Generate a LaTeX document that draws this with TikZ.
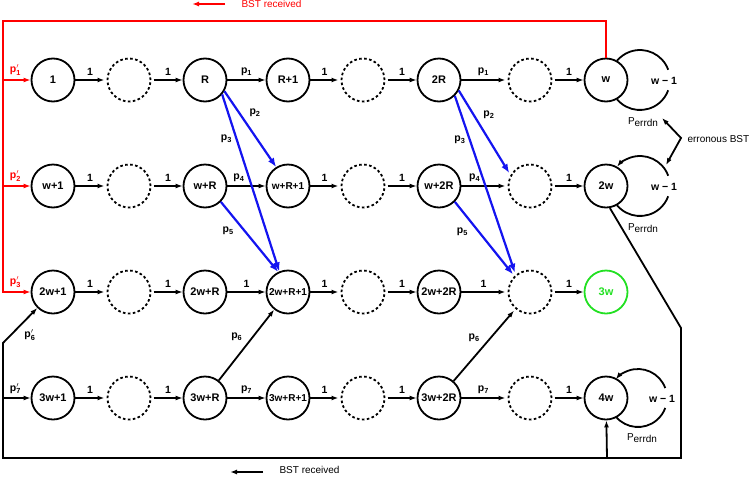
\documentclass[tikz,border=0pt]{standalone}
\usepackage{fontspec}
\setmainfont{Liberation Sans}
\setsansfont{Liberation Sans}
\usetikzlibrary{arrows.meta}
\definecolor{bstred}{HTML}{FF0000}
\definecolor{jumpblue}{HTML}{1414F0}
\definecolor{donegreen}{HTML}{22E022}
\newcommand{\pl}[1]{p\textsubscript{#1}}
\newcommand{\plp}[1]{$\mathbf{p}'_{\mathbf{#1}}$}
\newcommand{\perr}{P\raisebox{-1.5pt}{errdn}}

\begin{document}
\begin{tikzpicture}[x=1pt,y=1pt,
    every node/.style={font=\fontsize{10.5}{12}\selectfont\bfseries},
    st/.style={circle,draw,line width=1.8pt,minimum size=43pt,inner sep=0pt,
               font=\fontsize{11}{12}\selectfont\bfseries},
    long/.style={font=\fontsize{10}{12}\selectfont\bfseries},
    hole/.style={st,dash pattern=on 2.6pt off 2.4pt,outer sep=3pt},
    done/.style={st,draw=donegreen,text=donegreen},
    plain/.style={font=\fontsize{10}{12}\selectfont},
    arr/.style={-{Latex[length=7pt,width=5pt]},line width=1.8pt},
    jump/.style={-{Latex[length=9pt,width=7pt]},line width=2.2pt,draw=jumpblue},
    bst/.style={-{Latex[length=7pt,width=5pt]},line width=2.2pt,draw=bstred}
]
\useasboundingbox (0,0) rectangle (752,-477);

% row 1
\node[st]   (a1) at (53,-80)  {1};
\node[hole] (a2) at (129,-80) {};
\node[st]   (a3) at (205,-80) {R};
\node[st]   (a4) at (288,-80) {R+1};
\node[hole] (a5) at (363,-80) {};
\node[st]   (a6) at (439,-80) {2R};
\node[hole] (a7) at (530,-80) {};
\node[st]   (a8) at (606,-80) {w};
% row 2
\node[st]   (b1) at (53,-186)  {w+1};
\node[hole] (b2) at (129,-186) {};
\node[st]   (b3) at (205,-186) {w+R};
\node[st,long] (b4) at (288,-186) {w+R+1};
\node[hole] (b5) at (363,-186) {};
\node[st]   (b6) at (439,-186) {w+2R};
\node[hole] (b7) at (530,-186) {};
\node[st]   (b8) at (606,-186) {2w};
% row 3
\node[st]   (c1) at (53,-292)  {2w+1};
\node[hole] (c2) at (129,-292) {};
\node[st]   (c3) at (205,-292) {2w+R};
\node[st,long] (c4) at (288,-292) {2w+R+1};
\node[hole] (c5) at (363,-292) {};
\node[st]   (c6) at (439,-292) {2w+2R};
\node[hole] (c7) at (530,-292) {};
\node[done] (c8) at (606,-292) {3w};
% row 4
\node[st]   (d1) at (53,-398)  {3w+1};
\node[hole] (d2) at (129,-398) {};
\node[st]   (d3) at (205,-398) {3w+R};
\node[st,long] (d4) at (288,-398) {3w+R+1};
\node[hole] (d5) at (363,-398) {};
\node[st]   (d6) at (439,-398) {3w+2R};
\node[hole] (d7) at (530,-398) {};
\node[st]   (d8) at (606,-398) {4w};

% straight moves
\draw[arr] (a1) -- node[above]{1} (a2);
\draw[arr] (a2) -- node[above]{1} (a3);
\draw[arr] (a3) -- node[above]{\pl1} (a4);
\draw[arr] (a4) -- node[above]{1} (a5);
\draw[arr] (a5) -- node[above]{1} (a6);
\draw[arr] (a6) -- node[above]{\pl1} (a7);
\draw[arr] (a7) -- node[above]{1} (a8);

\draw[arr] (b1) -- node[above]{1} (b2);
\draw[arr] (b2) -- node[above]{1} (b3);
\draw[arr] (b3) -- node[above,pos=.3]{\pl4} (b4);
\draw[arr] (b4) -- node[above]{1} (b5);
\draw[arr] (b5) -- node[above]{1} (b6);
\draw[arr] (b6) -- node[above,pos=.3]{\pl4} (b7);
\draw[arr] (b7) -- node[above]{1} (b8);

\draw[arr] (c1) -- node[above]{1} (c2);
\draw[arr] (c2) -- node[above]{1} (c3);
\draw[arr] (c3) -- node[above]{1} (c4);
\draw[arr] (c4) -- node[above]{1} (c5);
\draw[arr] (c5) -- node[above]{1} (c6);
\draw[arr] (c6) -- node[above]{1} (c7);
\draw[arr] (c7) -- node[above]{1} (c8);

\draw[arr] (d1) -- node[above]{1} (d2);
\draw[arr] (d2) -- node[above]{1} (d3);
\draw[arr] (d3) -- node[above]{\pl7} (d4);
\draw[arr] (d4) -- node[above]{1} (d5);
\draw[arr] (d5) -- node[above]{1} (d6);
\draw[arr] (d6) -- node[above]{\pl7} (d7);
\draw[arr] (d7) -- node[above]{1} (d8);

% jumps
\draw[jump] (a3.-30) -- node[above right,pos=.4]{\pl2} (b4.122);
\draw[jump] (a3.-40) -- node[left,pos=.25]{\pl3} (c4.113);
\draw[jump] (b3.-45) -- node[below left,pos=.3]{\pl5} (c4.116);
\draw[jump] (a6.-28) -- node[above right,pos=.4]{\pl2} (b7.148);
\draw[jump] (a6.-45) -- node[left,pos=.25]{\pl3} (c7.128);
\draw[jump] (b6.-45) -- node[below left,pos=.3]{\pl5} (c7.134);
\draw[arr] (d3) -- node[above left]{\pl6} (c4);
\draw[arr] (d6) -- node[above left]{\pl6} (c7);

% BST feedback
\coordinate (rk) at (3,-21);
\coordinate (r1) at (3,-80);
\coordinate (r2) at (3,-186);
\coordinate (r3) at (3,-292);
\draw[bst] (a8.north) |- (rk) -- (r3) -- node[above,text=bstred,pos=.45]{\plp3} (c1);
\draw[bst] (r1) -- node[above,text=bstred,pos=.45]{\plp1} (a1);
\draw[bst] (r2) -- node[above,text=bstred,pos=.45]{\plp2} (b1);

\coordinate (rt) at (681,-328);
\coordinate (rb) at (681,-458);
\coordinate (lb) at (3,-458);
\coordinate (lk) at (3,-343);
\coordinate (l4) at (3,-398);
\coordinate (m4) at (607,-458);
\draw[arr] (b8.-80) -- (rt) -- (rb) -- (lb) -- (lk) -- node[below right]{\plp6} (c1);
\draw[arr] (l4) -- node[above,pos=.45]{\plp7} (d1);
\draw[arr] (m4) -- (d8);

% self loops
\coordinate (wa) at (640,-80);
\coordinate (wb) at (640,-186);
\coordinate (wc) at (638,-398);
\draw[line width=1.8pt] ([shift={(-140:30)}]wa) arc[start angle=-140,end angle=-20,radius=30]
    ([shift={(20:30)}]wa) arc[start angle=20,end angle=140,radius=30];
\draw[arr] ([shift={(-140:30)}]wb) arc[start angle=-140,end angle=-20,radius=30]
    ([shift={(20:30)}]wb) arc[start angle=20,end angle=140,radius=30];
\draw[arr] ([shift={(-140:29)}]wc) arc[start angle=-140,end angle=-20,radius=29]
    ([shift={(20:29)}]wc) arc[start angle=20,end angle=140,radius=29];
\node (la) at (664,-81)  {w − 1};
\node (lb1) at (664,-187) {w − 1};
\node (lc) at (662,-399) {w − 1};
\node[plain] (pa) at (643,-122) {\perr};
\node[plain] (pb) at (643,-228) {\perr};
\node[plain] (pc) at (642,-438) {\perr};

% erroneous BST
\coordinate (ea) at (662,-118);
\coordinate (ek) at (681,-138);
\coordinate (eb) at (666,-165);
\draw[{Latex[length=7pt,width=5pt]}-{Latex[length=7pt,width=5pt]},line width=1.8pt] (ea) -- (ek) -- (eb);
\node[plain,anchor=west] (etxt) at (684,-139) {erronous BST};

% legends
\coordinate (ta) at (225,-4);
\coordinate (tb) at (192,-4);
\draw[bst] (ta) -- (tb);
\node[plain,anchor=west,text=bstred] (ttxt) at (238,-4) {BST received};
\coordinate (ba) at (263,-472);
\coordinate (bb) at (230,-472);
\draw[arr] (ba) -- (bb);
\node[plain,anchor=west] (btxt) at (276,-470) {BST received};
\end{tikzpicture}
\end{document}
